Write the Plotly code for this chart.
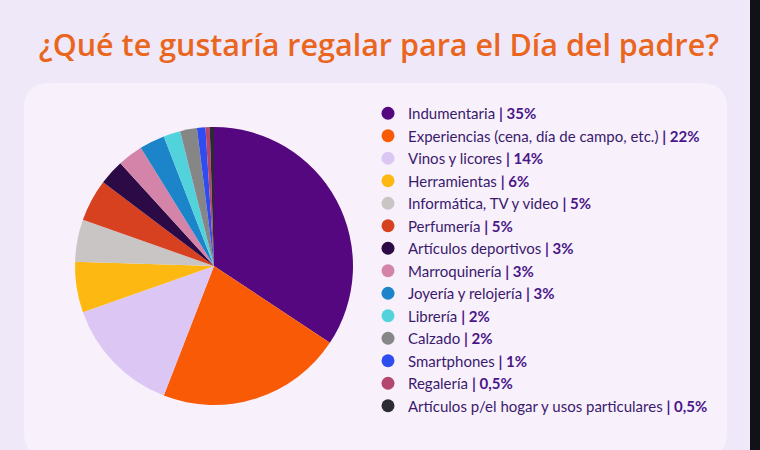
import plotly.graph_objects as go

title_text = "¿Qué te gustaría regalar para el Día del padre?"
categories = [
    "Indumentaria",
    "Experiencias (cena, día de campo, etc.)",
    "Vinos y licores",
    "Herramientas",
    "Informática, TV y video",
    "Perfumería",
    "Artículos deportivos",
    "Marroquinería",
    "Joyería y relojería",
    "Librería",
    "Calzado",
    "Smartphones",
    "Regalería",
    "Artículos p/el hogar y usos particulares",
]
values = [35, 22, 14, 6, 5, 5, 3, 3, 3, 2, 2, 1, 0.5, 0.5]
colors = [
    "#55077f", "#f95a06", "#dcc7f4", "#fdb912", "#c9c5c5", "#d8411f",
    "#2b0a45", "#d484a8", "#1c84c8", "#52d3dc", "#868686", "#2f4cf0",
    "#b5466f", "#2c2a33",
]

W, H = 760, 450


def pct(v):
    s = f"{v:g}".replace(".", ",")
    return s + "%"


fig = go.Figure()

# pie
cx, cy, d = 214, 266, 278
fig.add_trace(go.Pie(
    values=values,
    labels=categories,
    sort=False,
    direction="clockwise",
    rotation=0,
    marker=dict(colors=colors, line=dict(width=0)),
    textinfo="none",
    hoverinfo="label+percent",
    showlegend=False,
    domain=dict(x=[(cx - d / 2) / W, (cx + d / 2) / W],
                y=[1 - (cy + d / 2) / H, 1 - (cy - d / 2) / H]),
))

# legend entries with round markers
for cat, v, c in zip(categories, values, colors):
    fig.add_trace(go.Scatter(
        x=[None], y=[None], mode="markers",
        marker=dict(color=c, size=13, symbol="circle"),
        name=f"{cat} <span style='color:#4a1688'><b>| {pct(v)}</b></span>",
        showlegend=True, hoverinfo="skip",
    ))

# card background with rounded corners (paper coords)
def px(x):
    return x / W


def py(y):
    return 1 - y / H


x0, x1, y0, y1, r = 24, 727, 83, 458, 26
path = (
    f"M {px(x0 + r)},{py(y0)} L {px(x1 - r)},{py(y0)} "
    f"Q {px(x1)},{py(y0)} {px(x1)},{py(y0 + r)} "
    f"L {px(x1)},{py(y1 - r)} Q {px(x1)},{py(y1)} {px(x1 - r)},{py(y1)} "
    f"L {px(x0 + r)},{py(y1)} Q {px(x0)},{py(y1)} {px(x0)},{py(y1 - r)} "
    f"L {px(x0)},{py(y0 + r)} Q {px(x0)},{py(y0)} {px(x0 + r)},{py(y0)} Z"
)

fig.update_layout(
    width=W, height=H,
    margin=dict(l=0, r=0, t=0, b=0),
    paper_bgcolor="#efe8f8",
    plot_bgcolor="rgba(0,0,0,0)",
    xaxis=dict(visible=False),
    yaxis=dict(visible=False),
    shapes=[
        dict(type="path", xref="paper", yref="paper", path=path,
             fillcolor="#f8f1fc", line=dict(width=0), layer="below"),
        dict(type="rect", xref="paper", yref="paper",
             x0=750 / W, x1=1, y0=0, y1=1,
             fillcolor="#111118", line=dict(width=0), layer="below"),
    ],
    title=dict(
        text=title_text,
        x=379 / W, xanchor="center",
        y=1 - 45 / H, yanchor="middle",
        font=dict(family="Open Sans", size=30.5, color="#ea661e", weight=600),
    ),
    legend=dict(
        x=368 / W, xanchor="left",
        y=1 - 97 / H, yanchor="top",
        bgcolor="rgba(0,0,0,0)",
        font=dict(family="Lato", size=15, color="#3b1a6c"),
        tracegroupgap=0,
        itemclick=False, itemdoubleclick=False,
    ),
    showlegend=True,
)

fig.write_html("out.html")
